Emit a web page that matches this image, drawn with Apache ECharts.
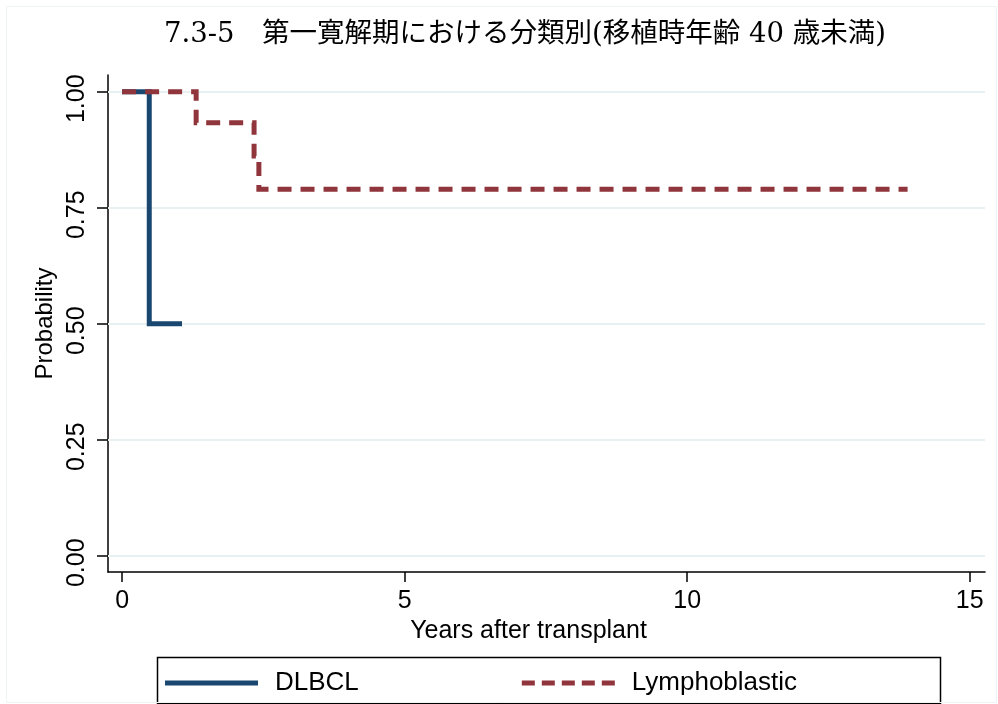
<!DOCTYPE html>
<html>
<head>
<meta charset="utf-8">
<script src="https://cdn.jsdelivr.net/npm/echarts@6/dist/echarts.min.js"></script>
<style>html,body{margin:0;padding:0;background:#fff}#c{width:998px;height:704px}</style>
</head>
<body>
<div id="c"></div>
<script>
var titleText = '7.3-5\u3000第一寛解期における分類別(移植時年齢 40 歳未満)';
var xTicks = [0, 5, 10, 15];
var yTicks = [0, 0.25, 0.5, 0.75, 1];
var seriesNames = ['DLBCL', 'Lymphoblastic'];
var dlbclTime = [0, 0.48, 1.06];
var dlbclSurv = [1, 0.5, 0.5];
var lymphTime = [0, 1.31, 2.335, 2.42, 13.9];
var lymphSurv = [1, 0.9333, 0.8615, 0.7897, 0.7897];

function pairs(t, s) { return t.map(function (v, i) { return [v, s[i]]; }); }

var font = 'Liberation Sans, Arial, sans-serif';
var solidIcon = 'path://M0,0H93V5H0Z';
var dashIcon = 'path://M0,0H13V5H0ZM20,0H33V5H20ZM40,0H53V5H40ZM60,0H73V5H60ZM80,0H93V5H80Z';
var chart = echarts.init(document.getElementById('c'));
chart.setOption({
  backgroundColor: '#fff',
  animation: false,
  title: {
    text: titleText, left: 520, textAlign: 'center', top: 16,
    textStyle: { fontFamily: 'DejaVu Serif, Noto Sans CJK JP, serif', fontWeight: 'normal', fontSize: 27.5, color: '#000' }
  },
  grid: { left: 108, right: 13, top: 75, bottom: 132, containLabel: false },
  xAxis: {
    type: 'value', min: -0.25, max: 15.27,
    name: 'Years after transplant', nameLocation: 'middle', nameGap: 46,
    nameTextStyle: { fontFamily: font, fontSize: 25, color: '#000', padding: [0, 36, 0, 0] },
    axisLine: { show: true, onZero: false, lineStyle: { color: '#000', width: 1.5 } },
    axisTick: { show: true, customValues: xTicks, length: 10, lineStyle: { color: '#000', width: 1.5 } },
    axisLabel: { customValues: xTicks, fontFamily: font, fontSize: 25, color: '#000', margin: 17 },
    splitLine: { show: false }
  },
  yAxis: {
    type: 'value', min: -0.035, max: 1.036,
    name: 'Probability', nameLocation: 'middle', nameGap: 40, nameRotate: 90,
    nameTextStyle: { fontFamily: font, fontSize: 24, color: '#000' },
    axisLine: { show: true, onZero: false, lineStyle: { color: '#000', width: 1.5 } },
    axisTick: { show: true, customValues: yTicks, length: 11, lineStyle: { color: '#000', width: 1.5 } },
    axisLabel: { customValues: yTicks, rotate: 90, fontFamily: font, fontSize: 25, color: '#000', margin: 18,
      padding: [0, 14, 0, 0],
      formatter: function (v) { return Number(v).toFixed(2); } },
    splitLine: { show: false }
  },
  legend: {
    data: [
      { name: seriesNames[0], icon: solidIcon },
      { name: seriesNames[1], icon: dashIcon }
    ],
    left: 160, top: 665, itemWidth: 93, itemHeight: 5, itemGap: 163,
    textStyle: { fontFamily: font, fontSize: 26, color: '#000', padding: [0, 0, 0, 12] }
  },
  graphic: [
    { type: 'rect', left: 155, top: 655, shape: { width: 783, height: 46 },
      style: { fill: 'none', stroke: '#000', lineWidth: 1.5 }, silent: true },
    { type: 'rect', left: 4, top: 4, shape: { width: 990, height: 696 },
      style: { fill: 'none', stroke: '#eef3f5', lineWidth: 1 }, silent: true }
  ],
  series: [
    {
      name: 'grid', type: 'line', data: [], z: 1, silent: true,
      markLine: {
        silent: true, symbol: 'none', label: { show: false },
        lineStyle: { color: '#e9f0f2', width: 2, type: 'solid' },
        data: yTicks.map(function (v) { return { yAxis: v }; })
      }
    },
    {
      name: seriesNames[0], type: 'line', step: 'end', showSymbol: false, symbol: 'none', z: 10,
      data: pairs(dlbclTime, dlbclSurv),
      lineStyle: { color: '#1a476f', width: 5, cap: 'butt', join: 'miter' },
      itemStyle: { color: '#1a476f' }
    },
    {
      name: seriesNames[1], type: 'line', step: 'end', showSymbol: false, symbol: 'none', z: 11,
      data: pairs(lymphTime, lymphSurv),
      lineStyle: { color: '#90353b', width: 5, type: [14, 9], cap: 'butt', join: 'miter' },
      itemStyle: { color: '#90353b' }
    }
  ]
});
</script>
</body>
</html>
